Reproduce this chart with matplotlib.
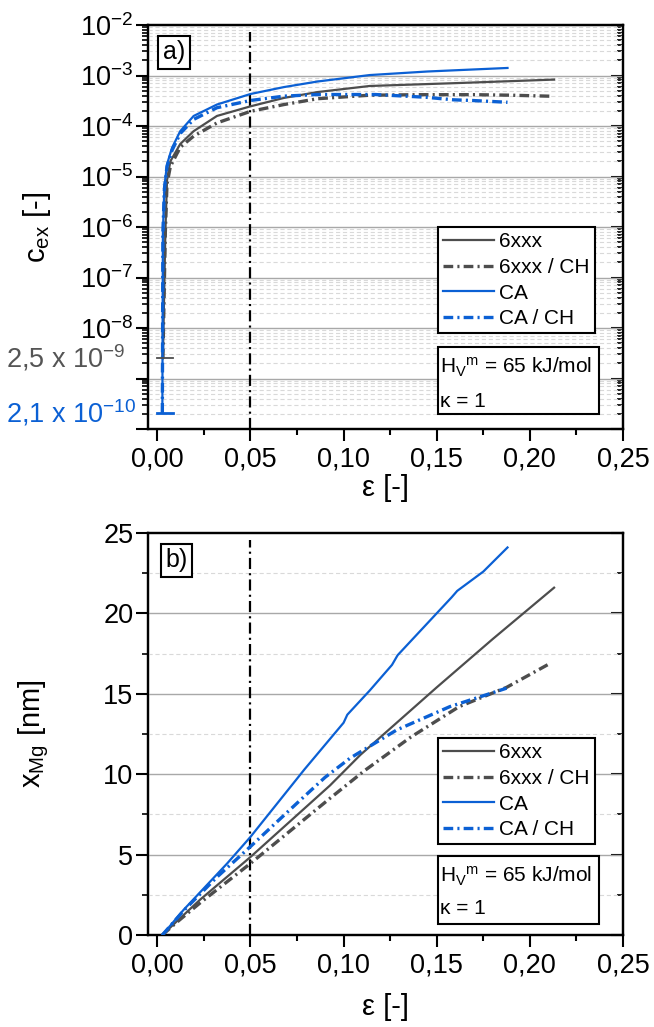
import numpy as np
import matplotlib
matplotlib.use('Agg')
import matplotlib.pyplot as plt
from matplotlib.ticker import FixedLocator, FuncFormatter, LogLocator, NullFormatter, MultipleLocator
from matplotlib.patches import Rectangle
import matplotlib.transforms as mtransforms

plt.rcParams['font.family'] = ['Liberation Sans', 'DejaVu Sans']
plt.rcParams['mathtext.default'] = 'regular'
plt.rcParams['lines.scale_dashes'] = False

GRAY = '#4d4d4d'
BLUE = '#0b60d4'
TICK_FS = 19.5
LABEL_FS = 21
LEG_FS = 15

# ---- panel a) excess vacancy concentration vs strain ----
eps_6xxx = [0.0030, 0.0043, 0.0052, 0.0070, 0.0123, 0.0195, 0.032, 0.050, 0.068, 0.086, 0.114, 0.162, 0.213]
cex_6xxx = [2.5e-9, 7.4e-7, 8.3e-6, 2.0e-5, 4.4e-5, 7.9e-5, 1.58e-4, 2.45e-4, 3.6e-4, 4.7e-4, 6.2e-4, 7.1e-4, 8.3e-4]

eps_6xxx_ch = [0.0030, 0.0043, 0.0052, 0.0070, 0.0123, 0.0195, 0.032, 0.050, 0.068, 0.086, 0.114, 0.140, 0.170, 0.190, 0.211]
cex_6xxx_ch = [2.5e-9, 7.9e-7, 7.1e-6, 1.58e-5, 3.8e-5, 6.3e-5, 1.15e-4, 1.95e-4, 2.66e-4, 3.47e-4, 4.07e-4, 4.17e-4, 4.17e-4, 4.07e-4, 3.89e-4]

eps_ca = [0.0027, 0.0030, 0.0038, 0.0052, 0.0079, 0.0123, 0.0195, 0.032, 0.050, 0.068, 0.086, 0.114, 0.145, 0.188]
cex_ca = [2.1e-10, 7.9e-7, 6.3e-6, 1.74e-5, 3.7e-5, 7.9e-5, 1.58e-4, 2.66e-4, 4.3e-4, 5.9e-4, 7.6e-4, 1.02e-3, 1.2e-3, 1.41e-3]

eps_ca_ch = [0.0027, 0.0030, 0.0038, 0.0052, 0.0079, 0.0123, 0.0195, 0.032, 0.050, 0.068, 0.086, 0.117, 0.1445, 0.159, 0.169, 0.188]
cex_ca_ch = [2.1e-10, 7.9e-7, 5.6e-6, 1.58e-5, 3.3e-5, 7.1e-5, 1.35e-4, 2.3e-4, 3.2e-4, 3.9e-4, 4.2e-4, 4.2e-4, 3.7e-4, 3.3e-4, 3.2e-4, 2.95e-4]

c0_6xxx = 2.5e-9
c0_ca = 2.1e-10

# ---- panel b) Mg diffusion length vs strain ----
eps_b_6xxx = [0.0027, 0.010, 0.023, 0.050, 0.0927, 0.109, 0.150, 0.180, 0.213]
xmg_6xxx = [0, 0.8, 2.2, 4.85, 9.3, 11.2, 15.4, 18.4, 21.6]

eps_b_6xxx_ch = [0.0027, 0.010, 0.023, 0.050, 0.0927, 0.111, 0.136, 0.162, 0.1875, 0.211]
xmg_6xxx_ch = [0, 0.75, 2.0, 4.45, 8.5, 10.2, 12.3, 14.2, 15.4, 16.9]

eps_b_ca = [0.0027, 0.014, 0.0375, 0.050, 0.079, 0.100, 0.102, 0.114, 0.126, 0.129, 0.158, 0.161, 0.175, 0.188]
xmg_ca = [0, 1.55, 4.45, 6.1, 10.3, 13.2, 13.7, 15.2, 16.8, 17.4, 21.0, 21.4, 22.6, 24.1]

eps_b_ca_ch = [0.0027, 0.014, 0.032, 0.050, 0.075, 0.090, 0.1035, 0.1285, 0.157, 0.1875]
xmg_ca_ch = [0, 1.5, 3.6, 5.5, 8.2, 9.8, 11.0, 12.75, 14.2, 15.35]

labels = ['6xxx', '6xxx / CH', 'CA', 'CA / CH']
DD = (7, 3, 1.5, 3)

fig = plt.figure(figsize=(6.54, 10.27), dpi=100)
ax1 = fig.add_axes([148/654, 1-429/1027, 475/654, 404/1027])
ax2 = fig.add_axes([148/654, 1-935/1027, 475/654, 402/1027])

comma = FuncFormatter(lambda v, p: f"{v:.2f}".replace('.', ','))


def style_axes(ax):
    for s in ax.spines.values():
        s.set_linewidth(1.6)
    ax.set_xlim(-0.005, 0.25)
    ax.xaxis.set_major_locator(FixedLocator([0, 0.05, 0.10, 0.15, 0.20, 0.25]))
    ax.xaxis.set_minor_locator(FixedLocator([0.025, 0.075, 0.125, 0.175, 0.225]))
    ax.xaxis.set_major_formatter(comma)
    ax.tick_params(axis='x', which='major', direction='out', length=8.5, width=1.5,
                   labelsize=TICK_FS, pad=4, top=False)
    ax.tick_params(axis='x', which='minor', direction='out', length=4.5, width=1.5, top=False)
    ax.tick_params(axis='y', which='major', direction='out', length=8.5, width=1.5,
                   labelsize=TICK_FS, pad=2, right=False)
    ax.tick_params(axis='y', which='minor', direction='out', length=4.5, width=1.2, right=False)
    ax.set_xlabel('ε [-]', fontsize=LABEL_FS)
    ax.axvline(0.05, ymin=0, ymax=0.983, color='black', lw=1.6, dashes=(8, 3, 1.5, 3), zorder=3)


def right_ticks(ax):
    # inward ticks on the right spine, no labels
    tw = ax.twinx()
    tw.set_yscale(ax.get_yscale())
    tw.set_ylim(ax.get_ylim())
    tw.yaxis.set_major_locator(ax.yaxis.get_major_locator())
    tw.yaxis.set_minor_locator(ax.yaxis.get_minor_locator())
    tw.tick_params(axis='y', which='major', direction='in', length=8.5, width=1.5, labelright=False)
    tw.tick_params(axis='y', which='minor', direction='in', length=4.5, width=1.2, labelright=False)
    for s in tw.spines.values():
        s.set_linewidth(1.6)
    tw.set_zorder(ax.get_zorder() - 1)
    ax.patch.set_visible(False)
    return tw


def legend_and_box(ax, handles, leg_top, box_y0, box_y1, txt1_y, txt2_y):
    leg = ax.legend(handles, labels, loc='upper left', bbox_to_anchor=(0.6105, leg_top),
                    fontsize=LEG_FS, frameon=True, fancybox=False, edgecolor='black',
                    borderaxespad=0, borderpad=0.25, handlelength=2.45,
                    handletextpad=0.25, labelspacing=0.32)
    leg.get_frame().set_linewidth(1.5)
    leg.get_frame().set_alpha(1)
    ax.add_patch(Rectangle((0.6105, box_y0), 0.339, box_y1 - box_y0, transform=ax.transAxes,
                           fill=True, facecolor='white', edgecolor='black', lw=1.5, zorder=5))
    ax.text(0.614, txt1_y, 'H$_V$$^m$ = 65 kJ/mol', transform=ax.transAxes, fontsize=LEG_FS,
            va='center', ha='left', zorder=6)
    ax.text(0.614, txt2_y, 'κ = 1', transform=ax.transAxes, fontsize=LEG_FS,
            va='center', ha='left', zorder=6)


# ===== panel a =====
ax1.set_yscale('log')
ax1.set_ylim(1e-10, 1e-2)
for e in range(-10, -2 + 1):
    ax1.axhline(10.0**e, color='#a8a8a8', lw=1.0, zorder=0)
    if e < -2:
        for m in range(2, 10):
            ax1.axhline(m * 10.0**e, color='#d9d9d9', lw=0.8, dashes=(3, 2), zorder=0)

h1 = []
h1 += ax1.plot(eps_6xxx, cex_6xxx, color=GRAY, lw=1.6, zorder=4)
h1 += ax1.plot(eps_6xxx_ch, cex_6xxx_ch, color=GRAY, lw=2.4, dashes=DD, zorder=4)
h1 += ax1.plot(eps_ca, cex_ca, color=BLUE, lw=1.6, zorder=4)
h1 += ax1.plot(eps_ca_ch, cex_ca_ch, color=BLUE, lw=2.4, dashes=DD, zorder=4)
ax1.plot([0, 0.0085], [c0_6xxx, c0_6xxx], color=GRAY, lw=1.3, zorder=4)
ax1.plot([0, 0.0085], [c0_ca, c0_ca], color=BLUE, lw=2.0, zorder=4)

style_axes(ax1)
ax1.yaxis.set_major_locator(FixedLocator([10.0**e for e in range(-10, -1)]))
ax1.yaxis.set_major_formatter(FuncFormatter(
    lambda v, p: '' if v < 5e-9 else '10$^{%d}$' % int(round(np.log10(v)))))
ax1.yaxis.set_minor_locator(LogLocator(base=10, subs=np.arange(2, 10), numticks=20))
ax1.yaxis.set_minor_formatter(NullFormatter())
ax1.set_ylabel('c$_{ex}$ [-]', fontsize=LABEL_FS)
ax1.yaxis.set_label_coords(-0.2, 0.5)
ax1.xaxis.set_label_coords(0.5, -0.112)

trans1 = mtransforms.blended_transform_factory(fig.transFigure, ax1.transData)
fig.text(125/654, c0_6xxx, '2,5 x 10$^{-9}$', transform=trans1, color='#555555',
         fontsize=TICK_FS, ha='right', va='center')
fig.text(136/654, c0_ca, '2,1 x 10$^{-10}$', transform=trans1, color=BLUE,
         fontsize=TICK_FS, ha='right', va='center')

ax1.text(0.0547, 0.932, 'a)', transform=ax1.transAxes, fontsize=18, ha='center', va='center',
         bbox=dict(boxstyle='square,pad=0.18', fc='white', ec='black', lw=1.5), zorder=6)
legend_and_box(ax1, h1, 0.5, 0.037, 0.203, 0.153, 0.068)
right_ticks(ax1)

# ===== panel b =====
ax2.set_ylim(0, 25)
for v in [5, 10, 15, 20]:
    ax2.axhline(v, color='#a8a8a8', lw=1.0, zorder=0)
for v in [2.5, 7.5, 12.5, 17.5, 22.5]:
    ax2.axhline(v, color='#d9d9d9', lw=0.8, dashes=(3, 2), zorder=0)

h2 = []
h2 += ax2.plot(eps_b_6xxx, xmg_6xxx, color=GRAY, lw=1.6, zorder=4)
h2 += ax2.plot(eps_b_6xxx_ch, xmg_6xxx_ch, color=GRAY, lw=2.4, dashes=DD, zorder=4)
h2 += ax2.plot(eps_b_ca, xmg_ca, color=BLUE, lw=1.6, zorder=4)
h2 += ax2.plot(eps_b_ca_ch, xmg_ca_ch, color=BLUE, lw=2.4, dashes=DD, zorder=4)

style_axes(ax2)
ax2.yaxis.set_major_locator(MultipleLocator(5))
ax2.yaxis.set_minor_locator(MultipleLocator(2.5))
ax2.set_ylabel('x$_{Mg}$ [nm]', fontsize=LABEL_FS)
ax2.yaxis.set_label_coords(-0.205, 0.5)
ax2.xaxis.set_label_coords(0.5, -0.145)

ax2.text(0.06, 0.9316, 'b)', transform=ax2.transAxes, fontsize=18, ha='center', va='center',
         bbox=dict(boxstyle='square,pad=0.18', fc='white', ec='black', lw=1.5), zorder=6)
legend_and_box(ax2, h2, 0.49, 0.0274, 0.1965, 0.147, 0.067)
right_ticks(ax2)

fig.savefig('out.png', dpi=100)
